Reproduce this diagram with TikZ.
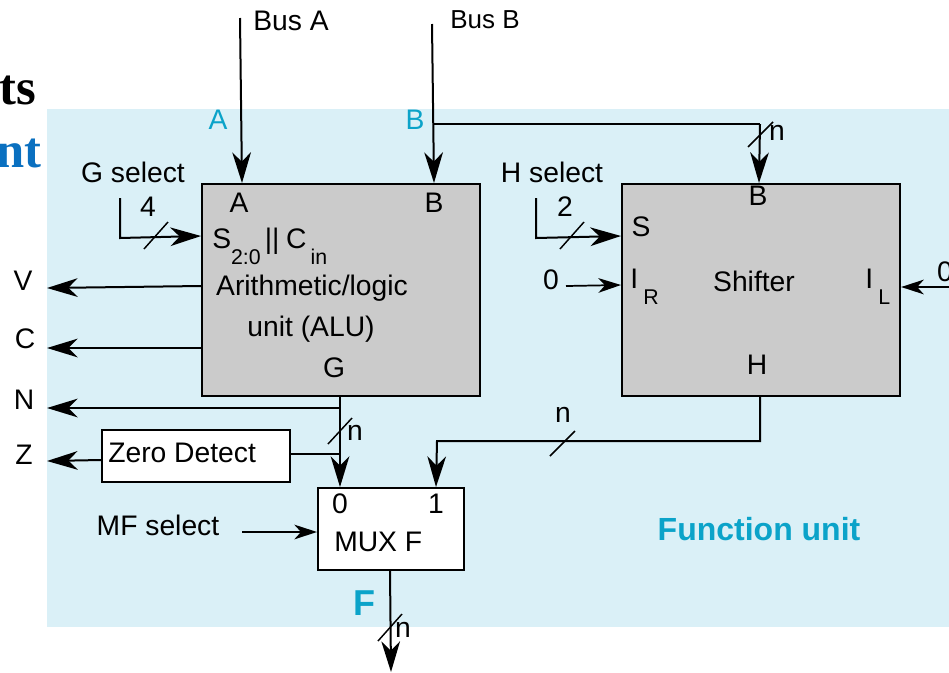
\documentclass[tikz,border=0pt]{standalone}
\usepackage{fontspec}
\setmainfont{Liberation Sans}
\newfontfamily\titlefont{Liberation Serif}
\usetikzlibrary{arrows.meta, positioning, calc}
\definecolor{unitbg}{HTML}{DAF0F7}
\definecolor{unitcyan}{HTML}{0BA3C9}
\definecolor{blockgray}{HTML}{CBCBCB}
\definecolor{titleblue}{HTML}{0A70C0}
\newcommand{\lowtext}[1]{\raisebox{-0.6em}{\fontsize{16pt}{16pt}\selectfont #1}}
\begin{document}
\begin{tikzpicture}[x=0.75pt, y=-0.75pt, font=\fontsize{21.2pt}{24pt}\selectfont,
    blk/.style={draw, line width=1.6pt, fill=blockgray, anchor=north west, inner sep=0pt},
    whiteblk/.style={blk, fill=white},
    lbl/.style={inner sep=0pt},
    arrow/.style={-{Stealth[length=23pt, width=14pt, inset=7pt]}, line width=1.5pt},
    smallarrow/.style={-{Stealth[length=17pt, width=11pt, inset=5pt]}, line width=1.3pt},
    wire/.style={line width=1.5pt},
    tick/.style={line width=1.1pt},
    cyanlbl/.style={lbl, text=unitcyan}
]
    \useasboundingbox (0,0) rectangle (949,672);
    \fill[unitbg] (47,109) rectangle (949,627);

    % clipped title
    \node[lbl, anchor=base east, font=\titlefont\bfseries\fontsize{38pt}{38pt}\selectfont] (ttl) at (36,104) {ts};
    \node[lbl, anchor=base east, text=titleblue, font=\titlefont\bfseries\fontsize{38pt}{38pt}\selectfont] (ttlb) at (42,167) {nt};

    % blocks
    \node[blk, minimum width=208.5pt, minimum height=159pt] (alu) at (201,183) {};
    \node[blk, minimum width=208.5pt, minimum height=159pt] (shifter) at (621,183) {};
    \node[whiteblk, minimum width=141pt, minimum height=39pt] (zero) at (101,429) {};
    \node[whiteblk, minimum width=109.5pt, minimum height=61.5pt] (mux) at (317,487) {};

    % alu text
    \node[lbl] (alua) at (239,203) {A};
    \node[lbl] (alub) at (434,203) {B};
    \node[lbl, anchor=base west] (alus) at (212,248) {S\lowtext{2:0}\kern3pt||\kern5pt C\kern3pt\lowtext{in}};
    \node[lbl] (alutxt) at (312,288) {Arithmetic/logic};
    \node[lbl] (alutxtb) at (311,329) {unit (ALU)};
    \node[lbl] (alug) at (334,368) {G};

    % shifter text
    \node[lbl] (shb) at (758,196) {B};
    \node[lbl] (shs) at (641,227) {S};
    \node[lbl, anchor=base west] (shr) at (630,288) {I\kern4pt\lowtext{R}};
    \node[lbl] (shtxt) at (754,281) {Shifter};
    \node[lbl, anchor=base west] (shl) at (865,288) {I\kern4pt\lowtext{L}};
    \node[lbl] (shh) at (757,365) {H};

    % other text
    \node[lbl, anchor=west] (zerotxt) at (108,453) {Zero Detect};
    \node[lbl] (mux0) at (340,504) {0};
    \node[lbl] (mux1) at (436,504) {1};
    \node[lbl, anchor=west] (muxtxt) at (334,542) {MUX F};
    \node[lbl] (busa) at (291,21) {Bus A};
    \node[lbl, font=\fontsize{19.5pt}{22pt}\selectfont] (busb) at (485,20) {Bus B};
    \node[cyanlbl] (cyana) at (218,120) {A};
    \node[cyanlbl] (cyanb) at (415,120) {B};
    \node[lbl] (gsel) at (133,172) {G select};
    \node[lbl] (hsel) at (552,172) {H select};
    \node[lbl] (mfsel) at (158,525) {MF select};
    \node[lbl] (four) at (148,207) {4};
    \node[lbl] (two) at (565,207) {2};
    \node[lbl] (zeror) at (551,280) {0};
    \node[lbl] (zerol) at (945,272) {0};
    \node[lbl] (vout) at (23,281) {V};
    \node[lbl] (cout) at (25,339) {C};
    \node[lbl] (nout) at (24,400) {N};
    \node[lbl] (zout) at (24,455) {Z};
    \node[lbl] (na) at (777,133) {n};
    \node[lbl] (nb) at (355,433) {n};
    \node[lbl] (nc) at (563,415) {n};
    \node[lbl] (nd) at (403,630) {n};
    \node[cyanlbl, font=\bfseries\fontsize{27pt}{27pt}\selectfont] (ftxt) at (364,603) {F};
    \node[cyanlbl, font=\bfseries\fontsize{24pt}{26pt}\selectfont] (funit) at (759,529) {Function unit};

    % connector ends
    \coordinate (abus) at (240,18);
    \coordinate (bbus) at (432,24);
    \coordinate (bjoin) at (433,124);
    \coordinate (bturn) at (760,124);
    \coordinate (gstart) at (120,198);
    \coordinate (gturn) at (120,238);
    \coordinate (hstart) at (536,198);
    \coordinate (hturn) at (536,238);
    \coordinate (gn) at (340,408);
    \coordinate (gz) at (340,454);
    \coordinate (hturna) at (760,441);
    \coordinate (hturnb) at (437,441);
    \coordinate (fout) at (391,672);
    \coordinate (ilin) at (949,287);
    \coordinate (irin) at (566,286);
    \coordinate (mfin) at (242,532);

    % connectors
    \draw[arrow] (abus) -- (alu.north -| 242,0);
    \draw[arrow] (bbus) -- (alu.north -| 434,0);
    \draw[wire] (bjoin) -- (bturn);
    \draw[arrow] (bturn) -- (shifter.north -| 759,0);
    \draw[arrow] (gstart) -- (gturn) -- (alu.west |- 0,236);
    \draw[arrow] (hstart) -- (hturn) -- (shifter.west |- 0,236);
    \draw[smallarrow] (irin) -- (shifter.west |- 0,285);
    \draw[smallarrow] (ilin) -- (shifter.east |- 0,287);
    \draw[arrow] (alu.west |- 0,286) -- (47,288);
    \draw[arrow] (alu.west |- 0,348) -- (47,348);
    \draw[arrow] (gn) -- (47,408);
    \draw[arrow] (alu.south -| gn) -- (mux.north -| gn);
    \draw[wire] (zero.east |- gz) -- (gz);
    \draw[arrow] (zero.west |- 0,460) -- (47,461);
    \draw[arrow] (shifter.south -| hturna) -- (hturna) -- (hturnb) -- (mux.north -| 436,0);
    \draw[smallarrow] (mfin) -- (mux.west |- mfin);
    \draw[arrow] (mux.south -| 390,0) -- (fout);

    % bus width marks
    \draw[tick] (144,249) -- ++(24,-27);
    \draw[tick] (560,249) -- ++(24,-27);
    \draw[tick] (748,147) -- ++(25,-25);
    \draw[tick] (328,444) -- ++(24,-26);
    \draw[tick] (550,456) -- ++(25,-25);
    \draw[tick] (378,641) -- ++(24,-27);
\end{tikzpicture}
\end{document}
